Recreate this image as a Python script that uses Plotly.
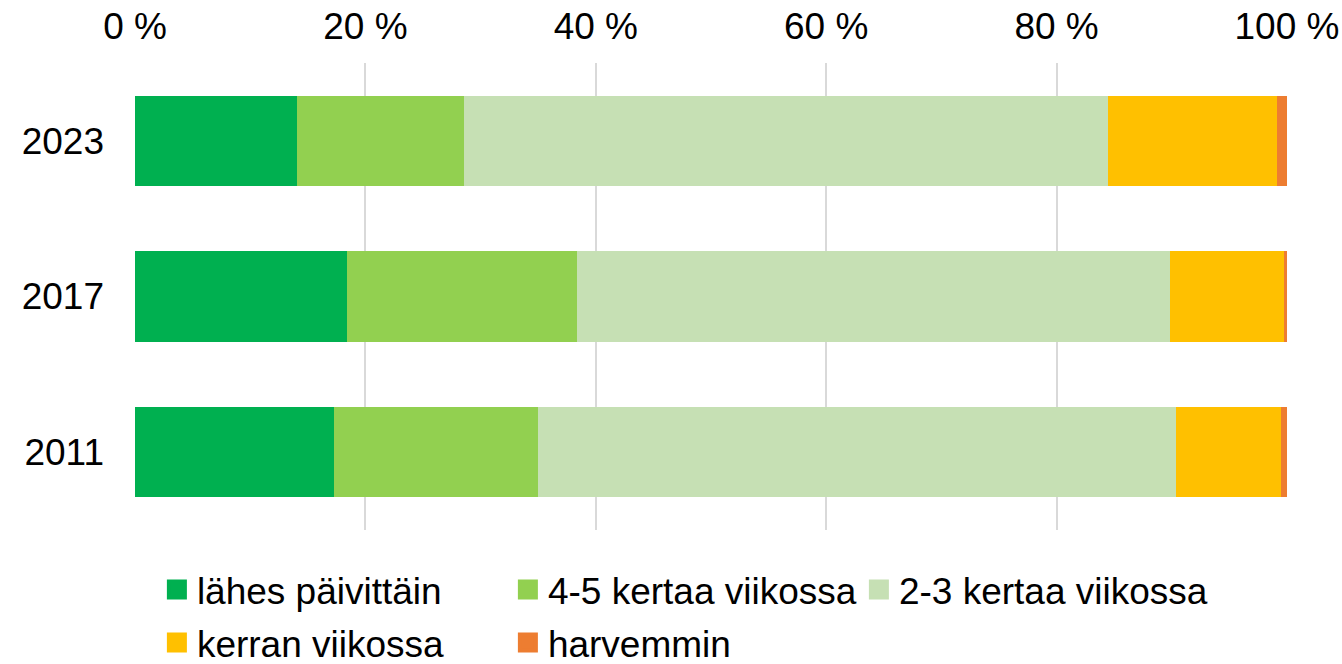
import plotly.graph_objects as go

years = ["2023", "2017", "2011"]
series_names = ["lähes päivittäin", "4-5 kertaa viikossa", "2-3 kertaa viikossa",
                "kerran viikossa", "harvemmin"]
lahes = [14.1, 18.4, 17.3]
neljaviisi = [14.5, 20.0, 17.7]
kaksikolme = [55.9, 51.4, 55.4]
kerran = [14.6, 9.9, 9.1]
harvemmin = [0.9, 0.3, 0.5]
colors = ["#00B050", "#92D050", "#C6E0B4", "#FFC000", "#ED7D31"]
tick_vals = [0, 20, 40, 60, 80, 100]
tick_text = ["0 %", "20 %", "40 %", "60 %", "80 %", "100 %"]

values = [lahes, neljaviisi, kaksikolme, kerran, harvemmin]
legend_ids = ["legend", "legend", "legend", "legend2", "legend2"]

fig = go.Figure()
for name, vals, col in zip(series_names, values, colors):
    fig.add_trace(go.Bar(
        y=years, x=vals, name=name, orientation="h",
        marker=dict(color=col, line=dict(width=0)),
        hoverinfo="x+name", showlegend=False, legendgroup=name,
    ))
# legend-only entries with larger square swatches
for name, col, lg in zip(series_names, colors, legend_ids):
    fig.add_trace(go.Scatter(
        x=[None], y=[None], mode="markers", name=name, legend=lg,
        legendgroup=name,
        marker=dict(symbol="square", size=16, color=col,
                    line=dict(color=col, width=4)),
    ))

FS = 37
leg_common = dict(
    orientation="h", xanchor="left", yanchor="middle", yref="container",
    entrywidth=306, entrywidthmode="pixels", traceorder="normal",
    font=dict(size=FS), itemwidth=30, bgcolor="rgba(0,0,0,0)",
    itemsizing="trace",
)

fig.update_layout(
    barmode="stack",
    bargap=0.42,
    width=1342, height=664,
    margin=dict(l=135, r=55, t=63, b=134),
    paper_bgcolor="white", plot_bgcolor="white",
    font=dict(family="Liberation Sans, Arial, sans-serif", size=FS, color="black"),
    xaxis=dict(
        side="top", range=[0, 100], tickvals=tick_vals, ticktext=tick_text,
        showgrid=True, gridcolor="#D9D9D9", gridwidth=2,
        zeroline=False, showline=False, ticks="", fixedrange=True,
        ticklabelstandoff=16, automargin=False,
    ),
    yaxis=dict(
        categoryorder="array", categoryarray=years[::-1],
        ticks="", showline=False, showgrid=False, ticklabelstandoff=30,
        automargin=False,
    ),
    legend=dict(x=0.019, y=1 - 590 / 664, **leg_common),
    legend2=dict(x=0.019, y=1 - 643 / 664, **leg_common),
    showlegend=True,
)

fig.write_html("out.html", config={"displayModeBar": False},
               post_script="document.body.style.margin='0px';")
